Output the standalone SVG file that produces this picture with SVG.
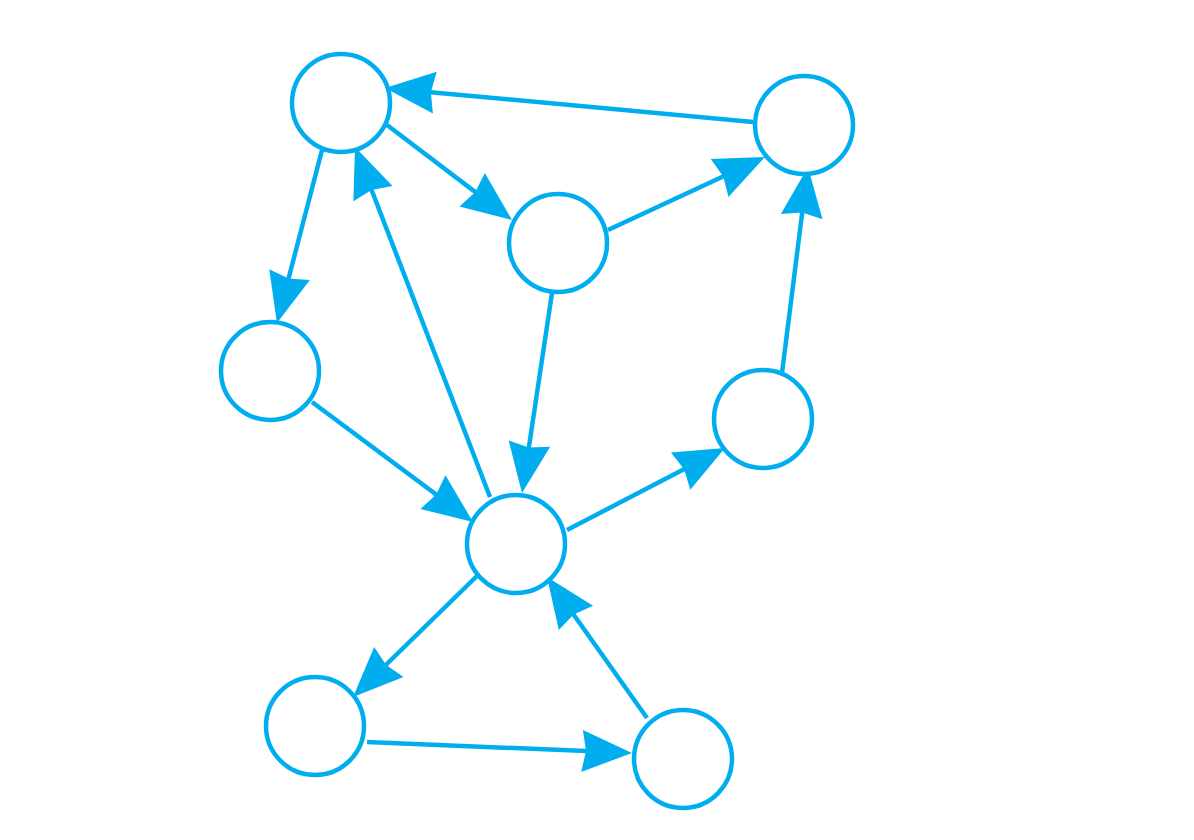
<svg xmlns="http://www.w3.org/2000/svg" width="1194" height="840" viewBox="0 0 1194 840">
<style>
.edge{stroke:#00AEEF;stroke-width:4.5;fill:none;marker-end:url(#arr)}
.node{stroke:#00AEEF;stroke-width:4.5;fill:#fff}
</style>
<defs>
<marker id="arr" markerUnits="userSpaceOnUse" markerWidth="60" markerHeight="50" viewBox="0 -25 55 50" refX="40" refY="0" orient="auto">
<path d="M0,-21 L50,0 L0,21 L4,0 Z" fill="#00AEEF"/>
</marker>
</defs>
<rect width="1194" height="840" fill="#fff"/>
<g id="connectors">
<line class="edge" x1="753" y1="122" x2="395" y2="88.9"/>
<line class="edge" x1="387" y1="125" x2="504" y2="213.9"/>
<line class="edge" x1="608" y1="230" x2="755.9" y2="161.2"/>
<line class="edge" x1="322" y1="150" x2="279.5" y2="313.3"/>
<line class="edge" x1="490" y1="497" x2="358.6" y2="156.3"/>
<line class="edge" x1="552" y1="293" x2="523.5" y2="483.1"/>
<line class="edge" x1="312" y1="402" x2="465" y2="516"/>
<line class="edge" x1="567" y1="530" x2="716.1" y2="452.6"/>
<line class="edge" x1="782" y1="373" x2="806.7" y2="176.9"/>
<line class="edge" x1="478" y1="575" x2="360.2" y2="690"/>
<line class="edge" x1="367" y1="742" x2="622" y2="752.6"/>
<line class="edge" x1="647" y1="718" x2="552.8" y2="585.2"/>
</g>
<g id="nA"><circle class="node" cx="341" cy="103" r="49"/></g>
<g id="nB"><circle class="node" cx="804" cy="125" r="49"/></g>
<g id="nC"><circle class="node" cx="558" cy="243" r="49"/></g>
<g id="nD"><circle class="node" cx="270" cy="371" r="49"/></g>
<g id="nE"><circle class="node" cx="763" cy="419" r="49"/></g>
<g id="nF"><circle class="node" cx="516" cy="544" r="49"/></g>
<g id="nG"><circle class="node" cx="315" cy="726" r="49"/></g>
<g id="nH"><circle class="node" cx="683" cy="759" r="49"/></g>
</svg>
